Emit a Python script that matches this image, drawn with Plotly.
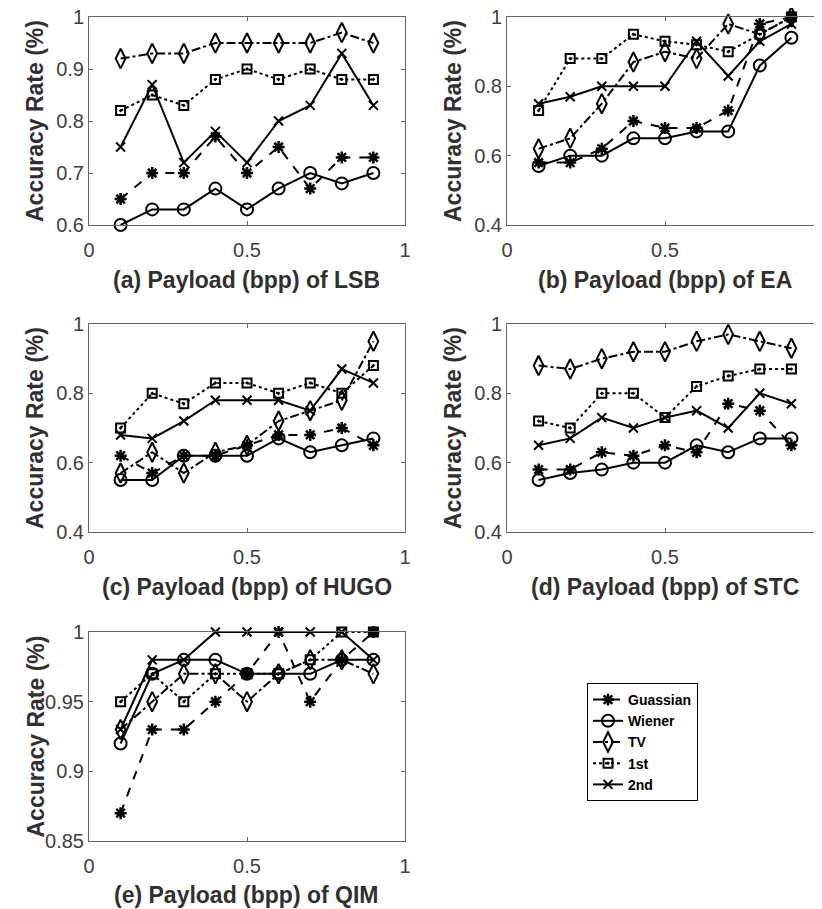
import plotly.graph_objects as go

payload = [0.1, 0.2, 0.3, 0.4, 0.5, 0.6, 0.7, 0.8, 0.9]
series_names = ["Guassian", "Wiener", "TV", "1st", "2nd"]

# (a) LSB
lsb_guassian = [0.65, 0.70, 0.70, 0.77, 0.70, 0.75, 0.67, 0.73, 0.73]
lsb_wiener = [0.60, 0.63, 0.63, 0.67, 0.63, 0.67, 0.70, 0.68, 0.70]
lsb_tv = [0.92, 0.93, 0.93, 0.95, 0.95, 0.95, 0.95, 0.97, 0.95]
lsb_1st = [0.82, 0.85, 0.83, 0.88, 0.90, 0.88, 0.90, 0.88, 0.88]
lsb_2nd = [0.75, 0.87, 0.72, 0.78, 0.72, 0.80, 0.83, 0.93, 0.83]

# (b) EA
ea_guassian = [0.58, 0.58, 0.62, 0.70, 0.68, 0.68, 0.73, 0.98, 1.00]
ea_wiener = [0.57, 0.60, 0.60, 0.65, 0.65, 0.67, 0.67, 0.86, 0.94]
ea_tv = [0.62, 0.65, 0.75, 0.87, 0.90, 0.88, 0.98, 0.95, 1.00]
ea_1st = [0.73, 0.88, 0.88, 0.95, 0.93, 0.92, 0.90, 0.95, 1.00]
ea_2nd = [0.75, 0.77, 0.80, 0.80, 0.80, 0.93, 0.83, 0.93, 0.98]

# (c) HUGO
hugo_guassian = [0.62, 0.57, 0.62, 0.62, 0.65, 0.68, 0.68, 0.70, 0.65]
hugo_wiener = [0.55, 0.55, 0.62, 0.62, 0.62, 0.67, 0.63, 0.65, 0.67]
hugo_tv = [0.57, 0.63, 0.57, 0.63, 0.65, 0.72, 0.75, 0.78, 0.95]
hugo_1st = [0.70, 0.80, 0.77, 0.83, 0.83, 0.80, 0.83, 0.80, 0.88]
hugo_2nd = [0.68, 0.67, 0.72, 0.78, 0.78, 0.78, 0.75, 0.87, 0.83]

# (d) STC
stc_guassian = [0.58, 0.58, 0.63, 0.62, 0.65, 0.63, 0.77, 0.75, 0.65]
stc_wiener = [0.55, 0.57, 0.58, 0.60, 0.60, 0.65, 0.63, 0.67, 0.67]
stc_tv = [0.88, 0.87, 0.90, 0.92, 0.92, 0.95, 0.97, 0.95, 0.93]
stc_1st = [0.72, 0.70, 0.80, 0.80, 0.73, 0.82, 0.85, 0.87, 0.87]
stc_2nd = [0.65, 0.67, 0.73, 0.70, 0.73, 0.75, 0.70, 0.80, 0.77]

# (e) QIM
qim_guassian = [0.87, 0.93, 0.93, 0.95, 0.97, 1.00, 0.95, 0.98, 1.00]
qim_wiener = [0.92, 0.97, 0.98, 0.98, 0.97, 0.97, 0.97, 0.98, 0.98]
qim_tv = [0.93, 0.95, 0.97, 0.97, 0.95, 0.97, 0.98, 0.98, 0.97]
qim_1st = [0.95, 0.97, 0.95, 0.97, 0.97, 0.97, 0.98, 1.00, 1.00]
qim_2nd = [0.93, 0.98, 0.98, 1.00, 1.00, 1.00, 1.00, 1.00, 0.98]

panel_titles = ["(a) Payload (bpp) of LSB", "(b) Payload (bpp) of EA",
                "(c) Payload (bpp) of HUGO", "(d) Payload (bpp) of STC",
                "(e) Payload (bpp) of QIM"]
panel_data = [
    [lsb_guassian, lsb_wiener, lsb_tv, lsb_1st, lsb_2nd],
    [ea_guassian, ea_wiener, ea_tv, ea_1st, ea_2nd],
    [hugo_guassian, hugo_wiener, hugo_tv, hugo_1st, hugo_2nd],
    [stc_guassian, stc_wiener, stc_tv, stc_1st, stc_2nd],
    [qim_guassian, qim_wiener, qim_tv, qim_1st, qim_2nd],
]
y_ranges = [[0.6, 1.0], [0.4, 1.0], [0.4, 1.0], [0.4, 1.0], [0.85, 1.0]]
y_dticks = [0.1, 0.2, 0.2, 0.2, 0.05]

W, H = 822, 909
OFF = 8  # page body margin offset
# screen pixel boxes: (left, right, top, bottom)
boxes = [(89, 405, 17, 225), (507, 823, 17, 225),
         (89, 405, 324, 532), (507, 823, 324, 532),
         (89, 405, 632, 841)]
title_y = [280, 280, 587, 587, 895]


def fx(px):
    return (px - OFF) / W


def fy(py):
    return 1 - (py - OFF) / H


styles = [
    dict(dash="dash", symbol="asterisk-open", size=10, lw=2.5),
    dict(dash="solid", symbol="circle-open", size=12, lw=2),
    dict(dash="dashdot", symbol="diamond-tall-open", size=14, lw=2),
    dict(dash="dot", symbol="square-open-dot", size=9, lw=2),
    dict(dash="solid", symbol="x-thin-open", size=9, lw=2),
]

FONT = "Liberation Sans, Arial, sans-serif"
fig = go.Figure()
annotations = []
for i, (vals, box) in enumerate(zip(panel_data, boxes)):
    l, r, t, b = box
    xa = "x" if i == 0 else f"x{i+1}"
    ya = "y" if i == 0 else f"y{i+1}"
    for j, (name, v) in enumerate(zip(series_names, vals)):
        st = styles[j]
        fig.add_trace(go.Scatter(
            x=payload, y=v, name=name, xaxis=xa, yaxis=ya,
            mode="lines+markers", showlegend=(i == 0), cliponaxis=False,
            line=dict(color="black", width=2, dash=st["dash"]),
            marker=dict(symbol=st["symbol"], size=st["size"], color="black",
                        line=dict(color="black", width=st["lw"])),
        ))
    axcommon = dict(showline=True, linecolor="#666666", linewidth=1, mirror="ticks",
                    ticks="inside", ticklen=4, tickcolor="#666666", showgrid=False,
                    zeroline=False, automargin=False, ticklabeloverflow="allow",
                    tickfont=dict(family=FONT, size=20, color="#404040"))
    fig.layout[("xaxis" if i == 0 else f"xaxis{i+1}")] = dict(
        domain=[fx(l), min(fx(r), 1)], range=[0, 1], tick0=0, dtick=0.5,
        anchor=ya, ticklabelstandoff=7, **axcommon)
    fig.layout[("yaxis" if i == 0 else f"yaxis{i+1}")] = dict(
        domain=[fy(b), fy(t)], range=y_ranges[i], tick0=0, dtick=y_dticks[i],
        anchor=xa, **axcommon)
    annotations.append(dict(
        text="<b>" + panel_titles[i] + "</b>", xref="paper", yref="paper",
        x=fx(l + 158), y=fy(title_y[i]),
        xanchor="center", yanchor="middle", showarrow=False,
        font=dict(family=FONT, size=23, color="#303030")))
    annotations.append(dict(
        text="<b>Accuracy Rate (%)</b>", xref="paper", yref="paper",
        x=fx(l - 54), y=fy((t + b) / 2), textangle=-90,
        xanchor="center", yanchor="middle", showarrow=False,
        font=dict(family=FONT, size=23, color="#303030")))

fig.update_layout(
    width=W, height=H, margin=dict(l=0, r=0, t=0, b=0, autoexpand=False),
    paper_bgcolor="white", plot_bgcolor="white",
    annotations=annotations,
    legend=dict(x=fx(587), y=fy(683), xanchor="left", yanchor="top",
                bordercolor="black", borderwidth=1, bgcolor="white",
                font=dict(family=FONT, size=14, color="black", weight="bold"),
                tracegroupgap=0, itemwidth=30),
)

fig.write_html("out.html")
